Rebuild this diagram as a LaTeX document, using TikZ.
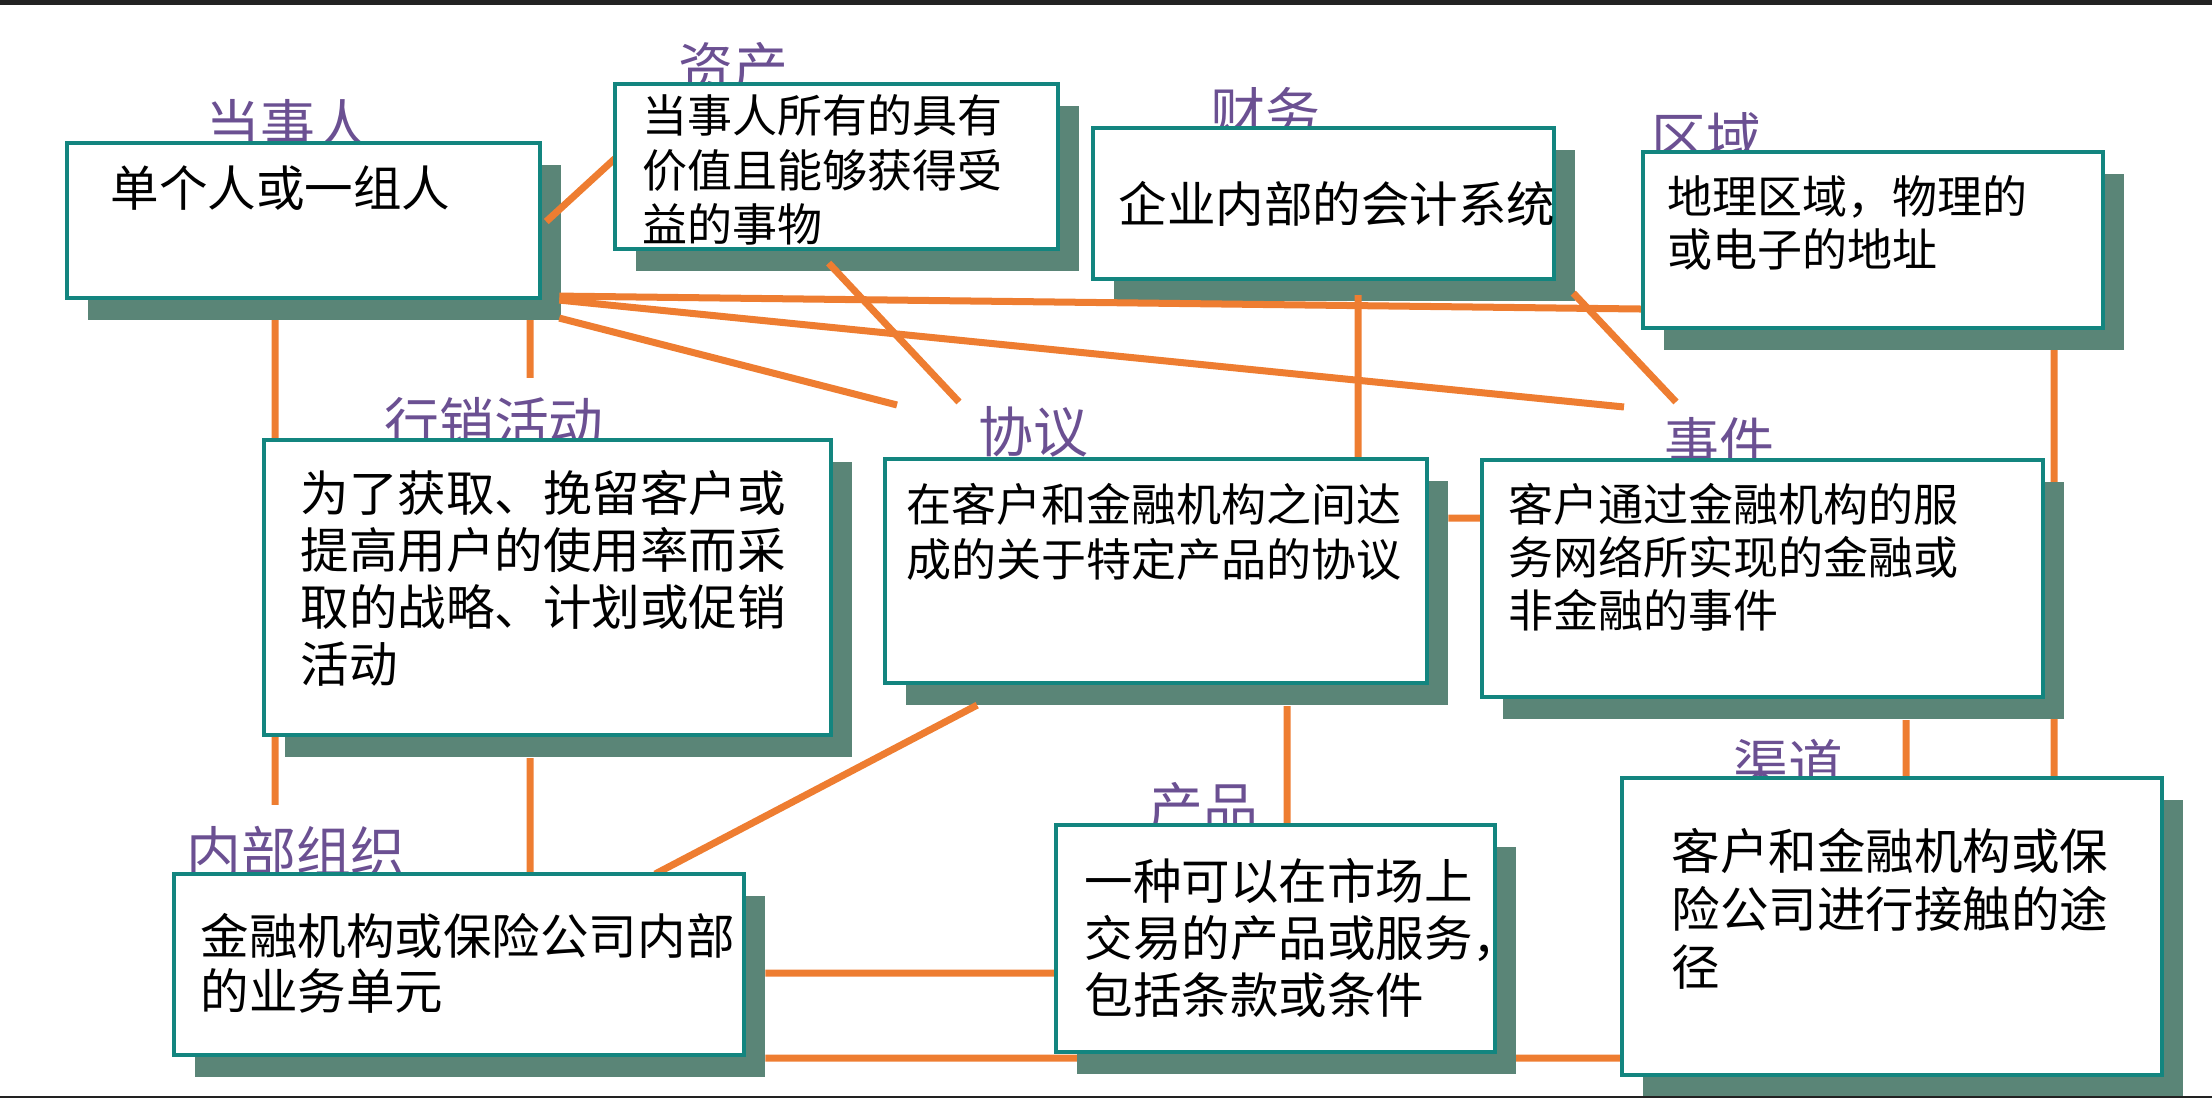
\documentclass[tikz,border=0pt]{standalone}
\usepackage{fontspec}
\setmainfont{Noto Sans CJK SC}
\definecolor{edgec}{RGB}{19,133,127}
\definecolor{shadec}{RGB}{90,133,119}
\definecolor{connc}{RGB}{238,125,49}
\definecolor{labc}{RGB}{107,80,146}
\definecolor{barc}{RGB}{34,34,34}
\pgfdeclarelayer{under}
\pgfdeclarelayer{shad}
\pgfdeclarelayer{lines}
\pgfsetlayers{under,shad,lines,main}
\tikzset{
  box/.style={draw=edgec, line width=0.04cm, fill=white, rectangle, inner sep=0pt, outer sep=0pt, anchor=north west},
  lbl/.style={text=labc, font=\fontsize{15.6pt}{18pt}\selectfont, inner sep=0pt, anchor=center},
  txt/.style={anchor=north west, align=left, inner sep=0pt},
  conn/.style={draw=connc, line width=0.07cm},
}
\newcommand{\fA}[1]{\fontsize{13.8pt}{#1}\selectfont}
\newcommand{\fB}[1]{\fontsize{12.8pt}{#1}\selectfont}
\begin{document}
\begin{tikzpicture}[x=0.01cm,y=-0.01cm]
\useasboundingbox (0,0) rectangle (2212,1098);
\fill[barc] (0,0) rectangle (2212,5);
\fill[barc] (0,1096) rectangle (2212,1098);

% labels (behind boxes)
\node[lbl] (dsrlab) at (288,125) {当事人};
\node[lbl] (zclab) at (733,68) {资产};
\node[lbl] (cwlab) at (1265,113) {财务};
\node[lbl] (qylab) at (1706,138) {区域};
\node[lbl] (yxlab) at (494,423) {行销活动};
\node[lbl] (xylab) at (1033,432) {协议};
\node[lbl] (sjlab) at (1719,443) {事件};
\node[lbl] (qdlab) at (1788,765) {渠道};
\node[lbl] (nblab) at (296,852) {内部组织};
\node[lbl] (cplab) at (1203,808) {产品};

% boxes
\node[box, minimum width=4.73cm, minimum height=1.55cm] (dsr) at (67,143) {};
\node[box, minimum width=4.43cm, minimum height=1.65cm] (zc) at (615,84) {};
\node[box, minimum width=4.61cm, minimum height=1.51cm] (cw) at (1093,128) {};
\node[box, minimum width=4.60cm, minimum height=1.76cm] (qy) at (1643,152) {};
\node[box, minimum width=5.67cm, minimum height=2.95cm] (yx) at (264,440) {};
\node[box, minimum width=5.42cm, minimum height=2.24cm] (xy) at (885,459) {};
\node[box, minimum width=5.61cm, minimum height=2.37cm] (sj) at (1482,460) {};
\node[box, minimum width=5.70cm, minimum height=1.81cm] (nb) at (174,874) {};
\node[box, minimum width=4.39cm, minimum height=2.27cm] (cp) at (1056,825) {};
\node[box, minimum width=5.40cm, minimum height=2.97cm] (qd) at (1622,778) {};

% texts
\node[txt, font=\fA{15.6pt}] (dsrtx) at (110,165) {单个人或一组人};
\node[txt, font=\fB{15.5pt}] (zctx) at (642,94) {当事人所有的具有\\价值且能够获得受\\益的事物};
\node[txt, font=\fA{15.6pt}] (cwtx) at (1118,181) {企业内部的会计系统};
\node[txt, font=\fB{15.1pt}] (qytx) at (1667,175) {地理区域，物理的\\或电子的地址};
\node[txt, font=\fA{16.2pt}] (yxtx) at (300,470) {为了获取、挽留客户或\\提高用户的使用率而采\\取的战略、计划或促销\\活动};
\node[txt, font=\fB{15.4pt}] (xytx) at (906,483) {在客户和金融机构之间达\\成的关于特定产品的协议};
\node[txt, font=\fB{15pt}] (sjtx) at (1508,483) {客户通过金融机构的服\\务网络所实现的金融或\\非金融的事件};
\node[txt, font=\fA{15.6pt}] (nbtx) at (200,913) {金融机构或保险公司内部\\的业务单元};
\node[txt, font=\fA{16.1pt}] (cptx) at (1084,858) {一种可以在市场上\\交易的产品或服务，\\包括条款或条件};
\node[txt, font=\fA{16.4pt}] (qdtx) at (1671,828) {客户和金融机构或保\\险公司进行接触的途\\径};

% shadows
\begin{pgfonlayer}{shad}
\foreach \n in {dsr,zc,cw,qy,yx,xy,sj,nb,cp,qd}{
  \fill[shadec] ([shift={(21,22)}]\n.north west) rectangle ([shift={(21,22)}]\n.south east);
}
\end{pgfonlayer}

% connectors hidden by shadows
\begin{pgfonlayer}{under}
\draw[conn] ([shift={(181,22)}]qy.south) -- ([shift={(162,0)}]qd.north);
\draw[conn] ([shift={(21,3)}]nb.south east) -- ([shift={(0,131.5)}]qd.west);
\end{pgfonlayer}

% connectors
\begin{pgfonlayer}{lines}
\draw[conn] ([shift={(6,1)}]dsr.east) -- ([shift={(0,-8)}]zc.west);
\draw[conn] ([shift={(-8,14)}]zc.south) -- ([shift={(-74,-30)}]xylab.center);
\draw[conn] ([shift={(19,-2)}]dsr.south east) -- ([shift={(0,69)}]qy.west);
\draw[conn] ([shift={(19,2)}]dsr.south east) -- ([shift={(-95,-36)}]sjlab.center);
\draw[conn] ([shift={(19,20)}]dsr.south east) -- ([shift={(-136,-27)}]xylab.center);
\draw[conn] ([shift={(-28.5,22)}]dsr.south) -- ([shift={(-21,-47)}]nblab.center);
\draw[conn] ([shift={(226.5,22)}]dsr.south) -- ([shift={(36,-45)}]yxlab.center);
\draw[conn] ([shift={(-17.5,23)}]yx.south) -- ([shift={(71,0)}]nb.north);
\draw[conn] ([shift={(-179,22)}]xy.south) -- ([shift={(196,0)}]nb.north);
\draw[conn] ([shift={(34.5,16)}]cw.south) -- ([shift={(202,0)}]xy.north);
\draw[conn] ([shift={(19,14)}]cw.south east) -- ([shift={(-43,-41)}]sjlab.center);
\draw[conn] ([shift={(21,-53)}]xy.east) -- ([shift={(0,-60.5)}]sj.west);
\draw[conn] ([shift={(143.5,23)}]sj.south) -- ([shift={(14,0)}]qd.north);
\draw[conn] ([shift={(131,23)}]xy.south) -- ([shift={(11.5,0)}]cp.north);
\draw[conn] ([shift={(21,8.5)}]nb.east) -- ([shift={(0,34.5)}]cp.west);
\end{pgfonlayer}
\end{tikzpicture}
\end{document}
